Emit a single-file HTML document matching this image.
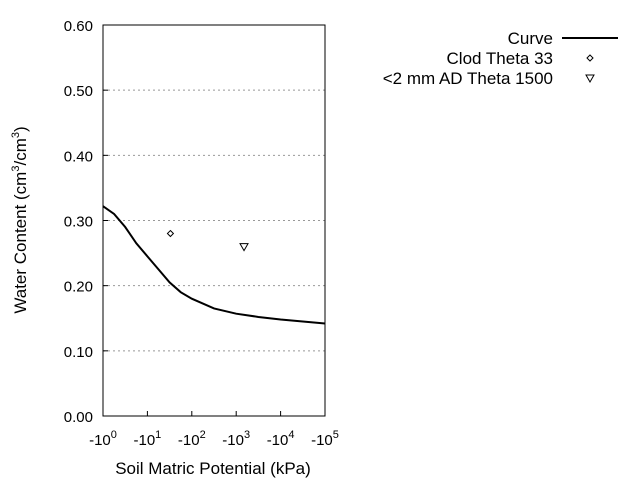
<!DOCTYPE html>
<html><head><meta charset="utf-8"><style>
body{margin:0;background:#fff;font-family:"Liberation Sans",sans-serif}
svg text{font-family:"Liberation Sans",sans-serif}
</style></head><body>
<svg width="640" height="480">
<g id="plot"></g>
<g>
<text x="553" y="44" font-size="17" text-anchor="end">Curve</text>
<line x1="562" y1="38" x2="618" y2="38" stroke="#000" stroke-width="2"/>
<text x="553" y="64" font-size="17" text-anchor="end">Clod Theta 33</text>
<path d="M590 55 l3 3 l-3 3 l-3 -3z" fill="none" stroke="#000"/>
<text x="553" y="84" font-size="17" text-anchor="end">&lt;2 mm AD Theta 1500</text>
<path d="M586 75 h8 l-4 7z" fill="none" stroke="#000"/>
</g>
<text x="213" y="474" font-size="17" text-anchor="middle">Soil Matric Potential (kPa)</text>
<text transform="translate(26,220) rotate(-90)" font-size="17" text-anchor="middle">Water Content (cm<tspan font-size="11" dy="-7">3</tspan><tspan dy="7">/cm</tspan><tspan font-size="11" dy="-7">3</tspan><tspan dy="7">)</tspan></text>
</svg>
<script>
const curveLogX=[0,0.25,0.5,0.75,1,1.25,1.5,1.75,2,2.5,3,3.5,4,4.5,5];
const curveTheta=[0.322,0.31,0.29,0.265,0.245,0.225,0.205,0.19,0.18,0.165,0.157,0.152,0.148,0.145,0.142];
const clodPoint=[33,0.28];
const adPoint=[1500,0.26];
const yTicks=[0,0.1,0.2,0.3,0.4,0.5,0.6];
const xTickExp=[0,1,2,3,4,5];
const L=103,R=325,T=25,B=416;
const xs=lg=>L+(R-L)*lg/5;
const ys=v=>B-(B-T)*v/0.6;
const NS="http://www.w3.org/2000/svg";
const g=document.getElementById('plot');
function mk(t,a,p){const e=document.createElementNS(NS,t);for(const k in a)e.setAttribute(k,a[k]);(p||g).appendChild(e);return e;}
yTicks.forEach(v=>{
 if(v>0&&v<0.6){const gl=mk('line',{x1:L,x2:R,y1:ys(v),y2:ys(v),stroke:'#999','stroke-dasharray':'2,3'});
 
 }
 const tk=mk('line',{x1:L,x2:L+5,y1:ys(v),y2:ys(v),stroke:'#000'});
 
 
 const t=mk('text',{x:L-10,y:ys(v)+6,'font-size':15,'text-anchor':'end'});
 t.textContent=v.toFixed(2);
 
 
});
xTickExp.forEach(e=>{
 const tk=mk('line',{x1:xs(e),x2:xs(e),y1:B,y2:B-5,stroke:'#000'});
 
 
 const t=mk('text',{x:xs(e),y:445,'font-size':15,'text-anchor':'middle'});
 t.innerHTML='-10<tspan font-size="11" dy="-7">'+e+'</tspan>';
 
 
});
const frame=mk('rect',{x:L,y:T,width:R-L,height:B-T,fill:'none',stroke:'#000'});


const pts=curveLogX.map((x,i)=>xs(x)+','+ys(curveTheta[i])).join(' ');
const cl=mk('polyline',{points:pts,fill:'none',stroke:'#000','stroke-width':2});


const cx=xs(Math.log10(clodPoint[0])),cy=ys(clodPoint[1]);
const d=mk('path',{d:`M${cx} ${cy-3} l3 3 l-3 3 l-3 -3z`,fill:'none',stroke:'#000'});


const ax=xs(Math.log10(adPoint[0])),ay=ys(adPoint[1]);
const tr=mk('path',{d:`M${ax-4} ${ay-3} h8 l-4 7z`,fill:'none',stroke:'#000'});


</script>
</body></html>
